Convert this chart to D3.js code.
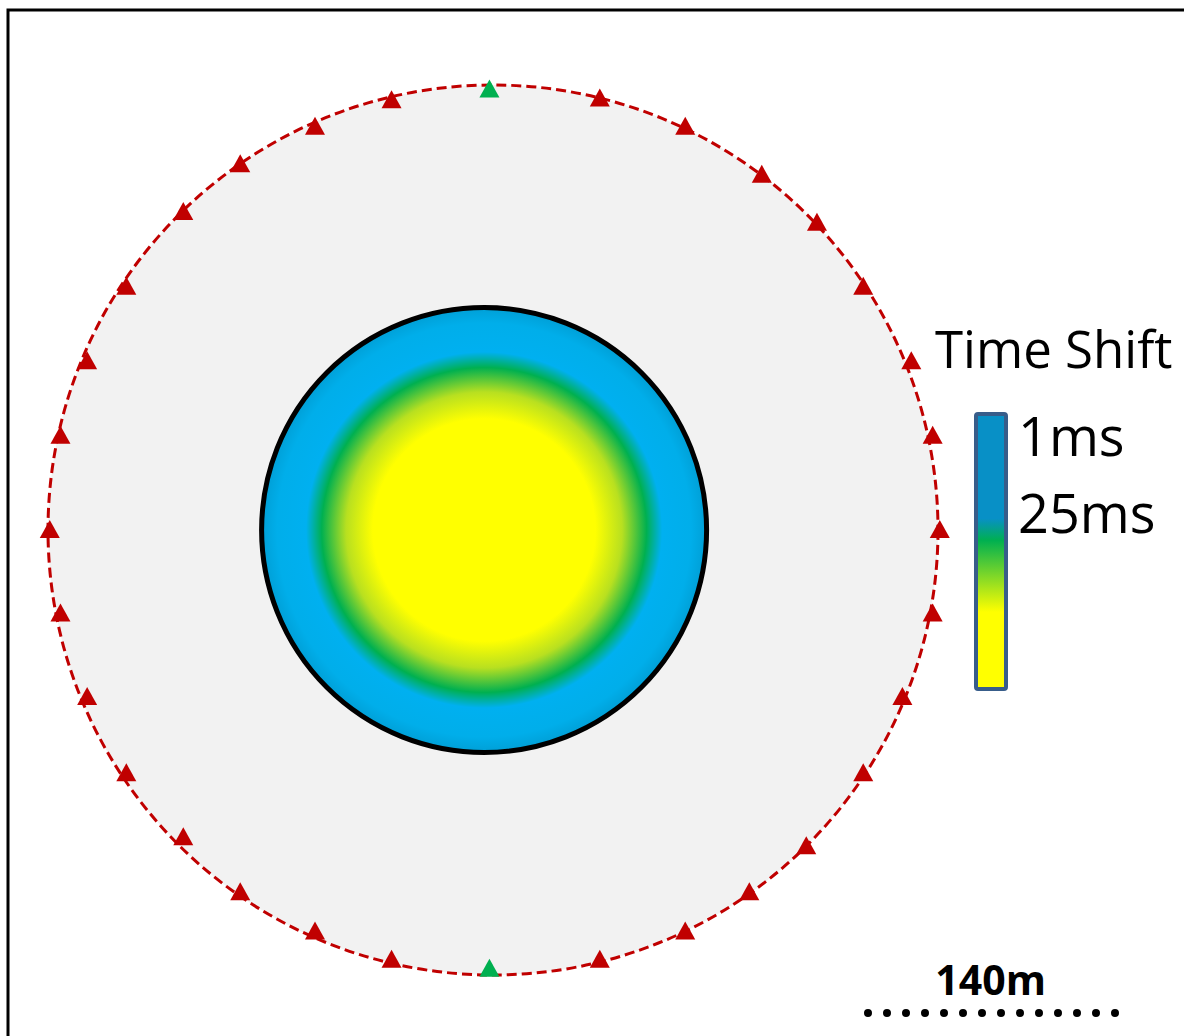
<!doctype html>
<html lang="en">
<head>
<meta charset="utf-8">
<style>
  body { margin: 0; background: #fff; }
  svg text { font-family: "Open Sans", sans-serif; fill: #000; }
</style>
</head>
<body>
<div id="grafico"></div>
<script src="https://d3js.org/d3.v7.min.js"></script>
<script>

// receiver positions on the ring (m, east / north of the centre), clockwise from north
var stationX = [-2, 60, 108, 151, 182, 208, 235, 247, 251, 247, 230, 208, 176, 144, 108, 60,
                -2, -57, -100, -142, -174, -206, -228, -243, -249, -243, -228, -206, -174, -142, -100, -57];
var stationY = [248, 243, 227, 200, 173, 137, 95, 53, 0, -47, -94, -137, -178, -204, -226, -242,
                -247, -242, -226, -204, -173, -137, -94, -47, 0, 53, 95, 137, 179, 206, 227, 242];
var stationType = ["ref", "rx", "rx", "rx", "rx", "rx", "rx", "rx", "rx", "rx", "rx", "rx", "rx", "rx", "rx", "rx",
                   "ref", "rx", "rx", "rx", "rx", "rx", "rx", "rx", "rx", "rx", "rx", "rx", "rx", "rx", "rx", "rx"];
var ringRadius = 250;      // m
var anomalyRadius = 125;   // m
var anomalyCenter = [-5, 0];

// time shift colour ramp (fraction of radius, colour)
var rampStop = [0, 0.5, 0.62, 0.73, 0.8, 0.93, 1];
var rampColor = ["#ffff00", "#ffff00", "#b8e020", "#00b050", "#00b0f0", "#00aeea", "#009fd6"];
var legendStop = [0, 0.38, 0.46, 0.72, 1];
var legendColor = ["#0890c6", "#0890c6", "#00b050", "#ffff00", "#ffff00"];
var legendLabel = ["1ms", "25ms"];
var scaleLength = 140;     // m

var W = 1184, H = 1036;
var svg = d3.select("#grafico").append("svg").attr("width", W).attr("height", H);

var x = d3.scaleLinear().domain([-250, 250]).range([493 - 445, 493 + 445]);
var y = d3.scaleLinear().domain([250, -250]).range([530 - 444, 530 + 444]);
var k = x(1) - x(0);

var defs = svg.append("defs");
var rg = defs.append("radialGradient").attr("id", "shift");
rg.selectAll("stop").data(rampStop).enter().append("stop")
  .attr("offset", function(d) { return d; })
  .attr("stop-color", function(d, i) { return rampColor[i]; });

var lg = defs.append("linearGradient").attr("id", "leyenda").attr("x1", 0).attr("y1", 0).attr("x2", 0).attr("y2", 1);
lg.selectAll("stop").data(legendStop).enter().append("stop")
  .attr("offset", function(d) { return d; })
  .attr("stop-color", function(d, i) { return legendColor[i]; });

// frame
svg.append("path").attr("d", "M8," + H + "V10H" + W).attr("fill", "none").attr("stroke", "#000").attr("stroke-width", 3);

// survey area
svg.append("circle").attr("cx", x(0)).attr("cy", y(0)).attr("r", ringRadius * k).attr("fill", "#f2f2f2");

// anomaly
svg.append("circle").attr("cx", x(anomalyCenter[0])).attr("cy", y(anomalyCenter[1])).attr("r", anomalyRadius * k)
  .attr("fill", "url(#shift)").attr("stroke", "#000").attr("stroke-width", 5);

// receiver ring
svg.append("circle").attr("cx", x(0)).attr("cy", y(0)).attr("r", ringRadius * k)
  .attr("fill", "none").attr("stroke", "#c00000").attr("stroke-width", 3).attr("stroke-dasharray", "10,5");

svg.selectAll("path.rx").data(stationX).enter().append("path").attr("class", "rx")
  .attr("d", "M0,-10L10,8L-10,8Z")
  .attr("transform", function(d, i) { return "translate(" + x(d) + "," + y(stationY[i]) + ")"; })
  .attr("fill", function(d, i) { return stationType[i] == "ref" ? "#00b050" : "#c00000"; });

// legend
svg.append("text").attr("x", 935).attr("y", 368).style("font-size", "51px").text("Time Shift");
svg.append("rect").attr("x", 976).attr("y", 414).attr("width", 30).attr("height", 275).attr("rx", 2)
  .attr("fill", "url(#leyenda)").attr("stroke", "#385d8a").attr("stroke-width", 4);
svg.selectAll("text.lab").data(legendLabel).enter().append("text").attr("class", "lab")
  .attr("x", 1018).attr("y", function(d, i) { return 456 + i * 77; })
  .style("font-size", "54px").text(function(d) { return d; });

// scale bar
var x0 = 868;
svg.append("line").attr("x1", x0).attr("x2", x0 + scaleLength * k).attr("y1", 1013).attr("y2", 1013)
  .attr("stroke", "#000").attr("stroke-width", 8).attr("stroke-linecap", "round").attr("stroke-dasharray", "0,19");
svg.append("text").attr("x", x0 + scaleLength * k / 2 - 2).attr("y", 995).attr("text-anchor", "middle")
  .style("font-size", "41px").style("font-weight", "bold").text(scaleLength + "m");

</script>
</body>
</html>
